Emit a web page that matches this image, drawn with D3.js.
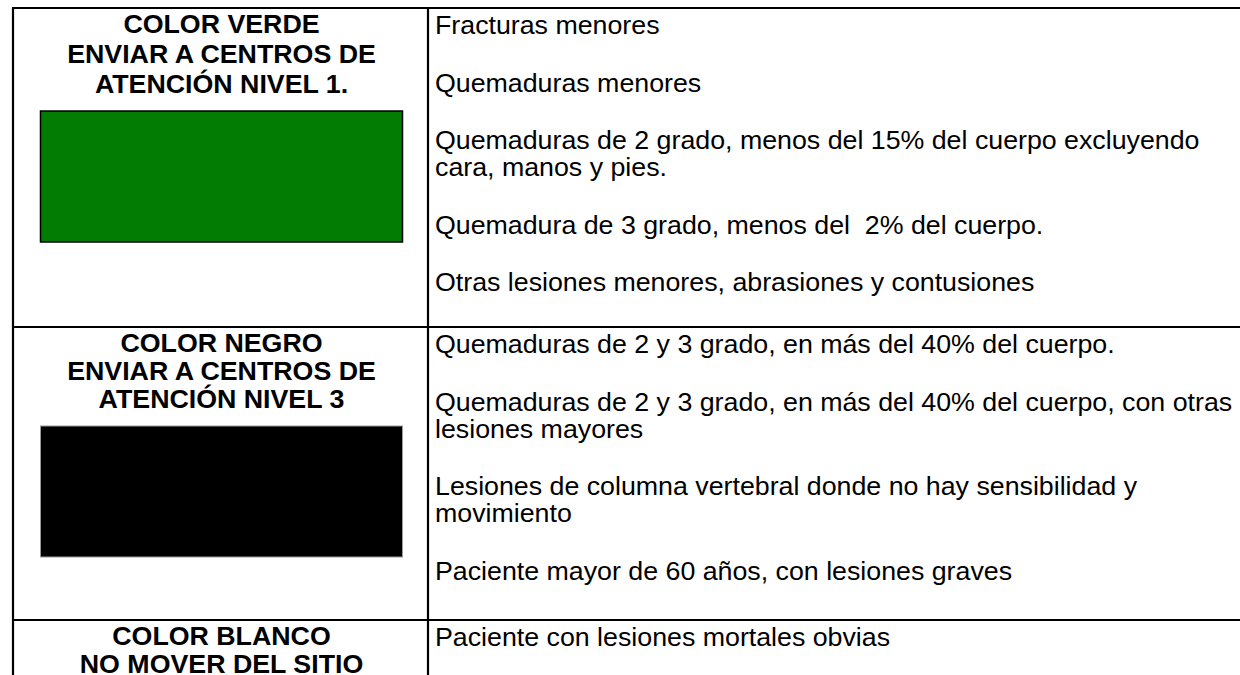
<!DOCTYPE html>
<html>
<head>
<meta charset="utf-8">
<script src="https://cdn.jsdelivr.net/npm/d3@7"></script>
<style>
  html, body { margin: 0; padding: 0; background: #fff; }
  svg { display: block; }
  text { font-family: "Liberation Sans", Arial, Helvetica, sans-serif; fill: #000; white-space: pre; }
</style>
</head>
<body>
<svg id="chart" width="1240" height="675"></svg>
<script>
// ---- data ----
const categories = ["VERDE", "NEGRO", "BLANCO"];
const headings = [
  ["COLOR VERDE", "ENVIAR A CENTROS DE", "ATENCIÓN NIVEL 1."],
  ["COLOR NEGRO", "ENVIAR A CENTROS DE", "ATENCIÓN NIVEL 3"],
  ["COLOR BLANCO", "NO MOVER DEL SITIO"]
];
const swatchColors = ["#037c03", "#000000", null];
const descriptions = [
  [
    ["Fracturas menores"],
    ["Quemaduras menores"],
    ["Quemaduras de 2 grado, menos del 15% del cuerpo excluyendo", "cara, manos y pies."],
    ["Quemadura de 3 grado, menos del  2% del cuerpo."],
    ["Otras lesiones menores, abrasiones y contusiones"]
  ],
  [
    ["Quemaduras de 2 y 3 grado, en más del 40% del cuerpo."],
    ["Quemaduras de 2 y 3 grado, en más del 40% del cuerpo, con otras", "lesiones mayores"],
    ["Lesiones de columna vertebral donde no hay sensibilidad y", "movimiento"],
    ["Paciente mayor de 60 años, con lesiones graves"]
  ],
  [
    ["Paciente con lesiones mortales obvias"]
  ]
];

// ---- layout ----
const W = 1240, H = 675;
const rowTops = [7, 326, 619];
const headGaps = [30, 28, 28];
const leftX = 13, divX = 428, rightX = W;
const headSize = 25.5, bodySize = 25.5, hScale = 1.05;
const lineGap = 27, paraGap = 57.5;

const svg = d3.select("#chart");
svg.append("rect").attr("width", W).attr("height", H).attr("fill", "#fff");

const colCenter = d3.scaleLinear().domain([0, 1]).range([leftX, divX])(0.5) + 1;

categories.forEach((cat, i) => {
  const top = rowTops[i];
  const g = svg.append("g").attr("class", "row row-" + cat);

  // headings (centered, bold)
  const hy = d3.scaleLinear().domain([0, 1]).range([top + 25.5, top + 25.5 + headGaps[i]]);
  g.selectAll("text.head").data(headings[i]).join("text")
    .attr("class", "head")
    .attr("text-anchor", "middle")
    .attr("font-weight", "bold")
    .attr("font-size", headSize)
    .attr("transform", (d, j) => `translate(${colCenter},${hy(j)}) scale(${hScale},1)`)
    .text(d => d);

  // swatch
  if (swatchColors[i]) {
    const lastHead = hy(headings[i].length - 1);
    g.append("rect")
      .attr("x", 40.5).attr("y", lastHead + 18.5)
      .attr("width", 362).attr("height", 131)
      .attr("fill", swatchColors[i])
      .attr("stroke", i === 0 ? "#000" : "#9a9a9a")
      .attr("stroke-width", i === 0 ? 1.5 : 1);
  }

  // descriptions
  const lines = [];
  let y = top + 27;
  descriptions[i].forEach((para) => {
    para.forEach((ln, k) => {
      lines.push({ text: ln, y: y });
      y += (k < para.length - 1) ? lineGap : 0;
    });
    y += paraGap;
  });
  g.selectAll("text.desc").data(lines).join("text")
    .attr("class", "desc")
    .attr("font-size", bodySize)
    .attr("transform", d => `translate(${divX + 7},${d.y}) scale(${hScale},1)`)
    .text(d => d.text);
});

// grid lines
const grid = svg.append("g").attr("stroke", "#000").attr("stroke-width", 2.2);
rowTops.forEach(t => {
  grid.append("line").attr("x1", leftX - 1).attr("x2", rightX).attr("y1", t + 1).attr("y2", t + 1);
});
grid.append("line").attr("x1", leftX).attr("x2", leftX).attr("y1", rowTops[0]).attr("y2", H);
grid.append("line").attr("x1", divX).attr("x2", divX).attr("y1", rowTops[0]).attr("y2", H);
</script>
</body>
</html>
